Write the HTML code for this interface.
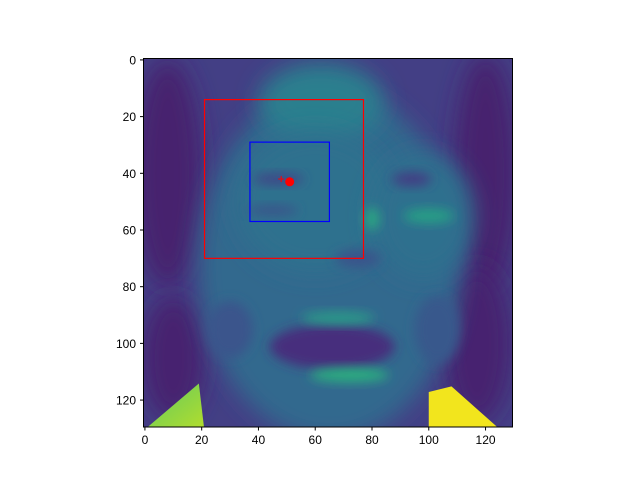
<!DOCTYPE html>
<html><head><meta charset="utf-8"><style>
html,body{margin:0;padding:0;background:#fff;}
svg text{font-family:"Liberation Sans",sans-serif;font-size:12px;fill:#000;}
</style></head><body>
<svg id="chart" width="640" height="480" xmlns="http://www.w3.org/2000/svg">
<defs>
<filter id="b4" x="-50%" y="-50%" width="200%" height="200%"><feGaussianBlur stdDeviation="4"/></filter>
<filter id="b2" x="-50%" y="-50%" width="200%" height="200%"><feGaussianBlur stdDeviation="2"/></filter>
<clipPath id="clip"><rect x="143.5" y="58.5" width="369" height="368.5"/></clipPath>
<linearGradient id="yl" x1="0" y1="0" x2="1" y2="1"><stop offset="0" stop-color="#5ec962"/><stop offset="1" stop-color="#b5de2b"/></linearGradient>
</defs>
<g id="img" clip-path="url(#clip)"></g>
<g id="overlay"></g>
<rect x="143.5" y="58.5" width="369" height="368.5" fill="none" stroke="#000" stroke-width="1"/>
<g id="axes"></g>
</svg>
<script>
const xTicks=[0,20,40,60,80,100,120];
const yTicks=[0,20,40,60,80,100,120];
const boxLabels=['outer-box','inner-box'];
const boxX0=[21,37];
const boxY0=[14,29];
const boxX1=[77,65];
const boxY1=[70,57];
const boxColors=['#ff0000','#0000ff'];
const ptX=[51];
const ptY=[43];
const plusX=[48];
const plusY=[42];
const L=143.5,T=58.5,S=369/130;
const sx=v=>L+(v+0.5)*S, sy=v=>T+(v+0.5)*S*368.5/369;
const NS='http://www.w3.org/2000/svg';
function mk(tag,attrs,parent){const e=document.createElementNS(NS,tag);for(const k in attrs)e.setAttribute(k,attrs[k]);parent.appendChild(e);return e;}
const img=document.getElementById('img');
const g=mk('g',{transform:`translate(${sx(0)},${sy(0)}) scale(${S})`},img);
mk('rect',{x:-1,y:-1,width:132,height:132,fill:'#433f85'},g);
const blobs=[
 [8,40,12,40,'#46216e',4],[120,40,11,42,'#46216e',4],[117,100,12,28,'#462270',4],[10,105,11,22,'#472070',4],
 [65,72,46,62,'#30698e',4],[62,15,22,14,'#2a7f8e',4],[60,50,28,25,'#2f718e',4],[98,55,18,22,'#2d6f8e',4],
 [47,42,9,2,'#414487',2],[94,42,7,2.5,'#433d84',2],[45,53,9,1.8,'#3b528b',2],
 [100,55,9,2.5,'#25a085',2],[80,56,2.5,4,'#29a882',2],
 [75,70,8,3,'#3b528b',2],[66,101,22,8,'#472f7d',2],[68,91,13,2.2,'#2a9d88',2],[72,111,14,2.5,'#2ab07f',2],
 [30,95,8,10,'#3a548c',3],[103,95,8,12,'#38598c',3]
];
blobs.forEach(b=>{mk('ellipse',{cx:b[0],cy:b[1],rx:b[2],ry:b[3],fill:b[4],filter:`url(#b${b[5]>3?4:2})`},g);});
mk('polygon',{points:'-1,131 19,114 21,131',fill:'url(#yl)'},g);
mk('polygon',{points:'100,117 108,115 126,131 100,131',fill:'#f2e51d'},g);
const ov=document.getElementById('overlay');
for(let i=0;i<boxX0.length;i++){
 const r=mk('rect',{x:sx(boxX0[i]),y:sy(boxY0[i]),width:sx(boxX1[i])-sx(boxX0[i]),height:sy(boxY1[i])-sy(boxY0[i]),fill:'none',stroke:boxColors[i],'stroke-width':1.2},ov);
 
 
}
for(let i=0;i<ptX.length;i++){
 const c=mk('circle',{cx:sx(ptX[i]),cy:sy(ptY[i]),r:4.5,fill:'#ff0000'},ov);
 
 
}
for(let i=0;i<plusX.length;i++){
 const p=mk('path',{d:`M${sx(plusX[i])-3},${sy(plusY[i])}h6M${sx(plusX[i])},${sy(plusY[i])-3}v6`,stroke:'#ff0000','stroke-width':1},ov);
 
 
}
const ax=document.getElementById('axes');
xTicks.forEach(t=>{
 const x=sx(t);
 const l=mk('line',{x1:x,x2:x,y1:427,y2:430.5,stroke:'#000'},ax);
 
 
 const tx=mk('text',{x:x,y:444,'text-anchor':'middle'},ax);tx.textContent=t;
 
 
});
yTicks.forEach(t=>{
 const y=sy(t);
 const l=mk('line',{x1:140,x2:143.5,y1:y,y2:y,stroke:'#000'},ax);
 
 
 const tx=mk('text',{x:136,y:y+4.5,'text-anchor':'end'},ax);tx.textContent=t;
 
 
});
</script>
</body></html>
